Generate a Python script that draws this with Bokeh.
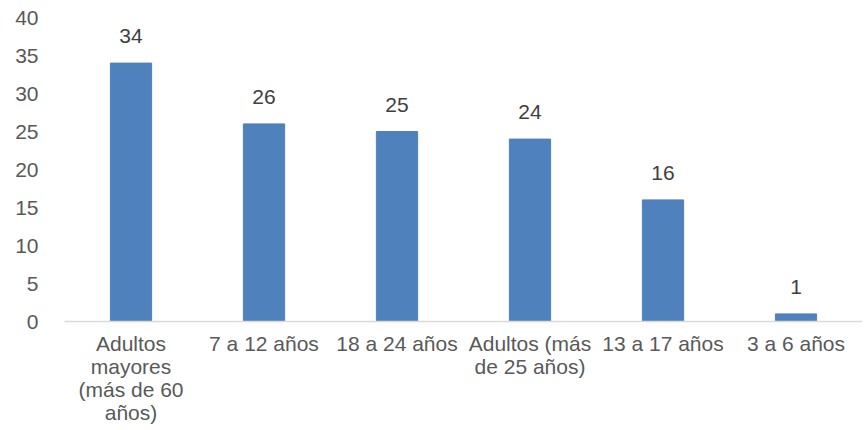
from bokeh.plotting import figure
from bokeh.models import ColumnDataSource, FixedTicker, Range1d
from bokeh.core.properties import value
from bokeh.embed import file_html
from bokeh.resources import INLINE

categories = ["Adultos\nmayores\n(más de 60\naños)", "7 a 12 años", "18 a 24 años",
              "Adultos (más\nde 25 años)", "13 a 17 años", "3 a 6 años"]
values = [34, 26, 25, 24, 16, 1]
y_ticks = [0, 5, 10, 15, 20, 25, 30, 35, 40]

xs = [i + 0.5 for i in range(len(categories))]
src = ColumnDataSource(dict(x=xs, top=values, label=[str(v) for v in values]))

p = figure(frame_width=798, frame_height=304, output_backend="svg", toolbar_location=None,
           x_range=Range1d(0, len(categories)), y_range=Range1d(0, 40))
p.min_border_left = 64
p.min_border_right = 0
p.min_border_top = 17
p.min_border_bottom = 0
p.outline_line_color = None
p.xgrid.visible = False
p.ygrid.visible = False

p.vbar(x="x", top="top", width=0.31, bottom=0, source=src, color="#4F81BD")
p.text(x="x", y="top", text="label", source=src, text_align="center",
       text_baseline="bottom", y_offset=-20, text_font=value("Liberation Sans"),
       text_font_size="21px", text_color="#404040")

p.xaxis.ticker = FixedTicker(ticks=xs)
p.xaxis.major_label_overrides = {x: c for x, c in zip(xs, categories)}
p.xaxis.major_tick_line_color = None
p.xaxis.minor_tick_line_color = None
p.xaxis.axis_line_color = "#D9D9D9"
p.xaxis.axis_line_width = 1.5
p.xaxis.major_label_text_font = "Liberation Sans"
p.xaxis.major_label_text_font_size = "21px"
p.xaxis.major_label_text_color = "#595959"
p.xaxis.major_label_text_line_height = 1.0
p.xaxis.major_label_standoff = 4

p.yaxis.ticker = FixedTicker(ticks=y_ticks)
p.yaxis.axis_line_color = None
p.yaxis.major_tick_line_color = None
p.yaxis.minor_tick_line_color = None
p.yaxis.major_label_text_font = "Liberation Sans"
p.yaxis.major_label_text_font_size = "21px"
p.yaxis.major_label_text_color = "#595959"
p.yaxis.major_label_standoff = 20

open("out.html", "w").write(file_html(p, INLINE))
